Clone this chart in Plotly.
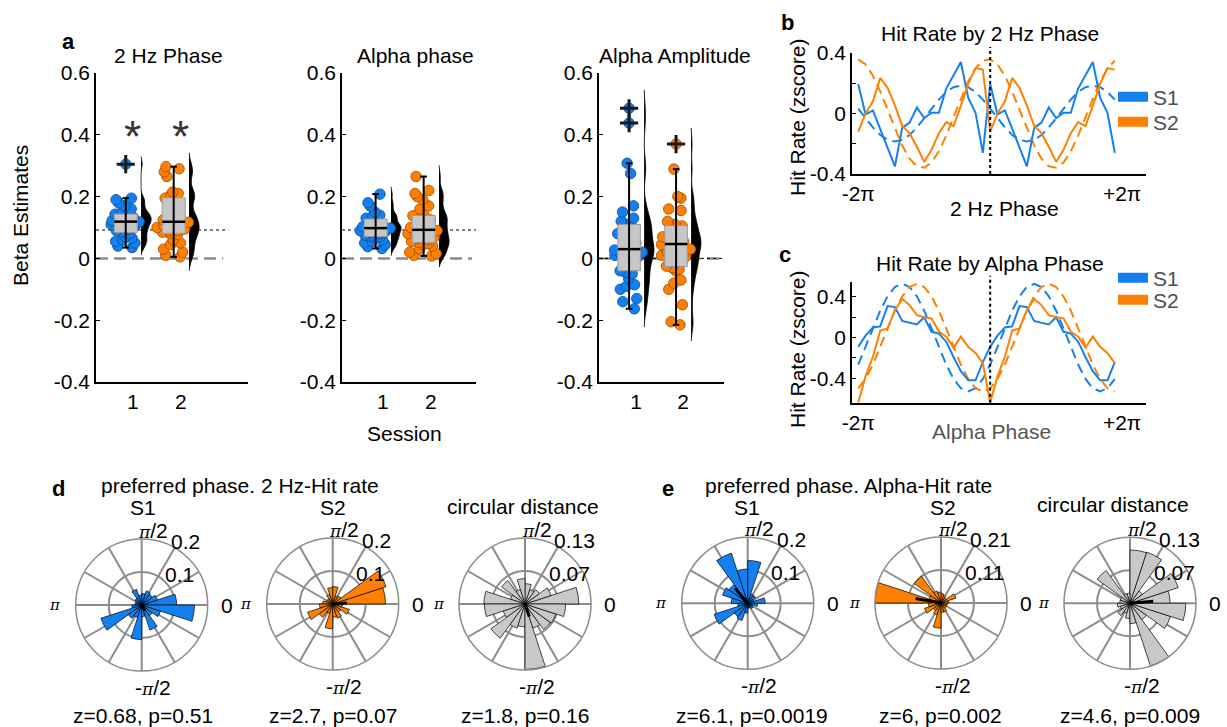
import numpy as np
import plotly.graph_objects as go

W, H = 1227, 727
FONT = "Liberation Sans, Arial, Helvetica, sans-serif"
BLUE = "#1380f0"
ORANGE = "#ff8000"
BLUE_EDGE = "#0a4c94"
ORANGE_EDGE = "#9c4d00"
GRID = "#8c8c8c"

# ---------------- data: panel a (beta estimates) ----------------
sessions = [1, 2]
a_titles = ["2 Hz Phase", "Alpha phase", "Alpha Amplitude"]
beta_2hz_s1 = [0.035, 0.04, 0.05, 0.055, 0.06, 0.065, 0.07, 0.08, 0.085, 0.09, 0.095, 0.1,
               0.105, 0.11, 0.115, 0.118, 0.12, 0.122, 0.125, 0.13, 0.133, 0.137, 0.14, 0.143,
               0.145, 0.15, 0.16, 0.17, 0.18, 0.19, 0.195, 0.305]
beta_2hz_s2 = [0.005, 0.01, 0.02, 0.03, 0.045, 0.05, 0.06, 0.078, 0.082, 0.085, 0.09, 0.09,
               0.095, 0.1, 0.105, 0.117, 0.12, 0.125, 0.13, 0.135, 0.14, 0.15, 0.19, 0.195,
               0.2, 0.205, 0.21, 0.215, 0.265, 0.28, 0.29, 0.297]
beta_aphase_s1 = [0.032, 0.038, 0.045, 0.05, 0.055, 0.06, 0.065, 0.07, 0.072, 0.075, 0.08,
                  0.085, 0.088, 0.09, 0.095, 0.098, 0.1, 0.102, 0.105, 0.108, 0.11, 0.113,
                  0.125, 0.13, 0.133, 0.137, 0.14, 0.15, 0.17, 0.18, 0.208]
beta_aphase_s2 = [0.008, 0.01, 0.015, 0.02, 0.03, 0.04, 0.045, 0.048, 0.052, 0.055, 0.06,
                  0.065, 0.07, 0.08, 0.085, 0.09, 0.095, 0.1, 0.11, 0.12, 0.125, 0.13, 0.135,
                  0.138, 0.142, 0.16, 0.17, 0.19, 0.2, 0.21, 0.22, 0.265]
beta_aamp_s1 = [-0.163, -0.14, -0.13, -0.1, -0.09, -0.085, -0.065, -0.05, -0.045, -0.04,
                -0.02, 0.0, 0.005, 0.01, 0.015, 0.02, 0.025, 0.027, 0.03, 0.035, 0.05, 0.055,
                0.06, 0.08, 0.085, 0.09, 0.095, 0.11, 0.115, 0.12, 0.13, 0.15, 0.17, 0.275,
                0.308, 0.438, 0.486]
beta_aamp_s2 = [-0.215, -0.205, -0.15, -0.1, -0.08, -0.07, -0.04, -0.035, -0.03, -0.025,
                -0.01, 0.0, 0.005, 0.01, 0.02, 0.03, 0.04, 0.045, 0.048, 0.05, 0.055, 0.06,
                0.065, 0.07, 0.08, 0.09, 0.105, 0.11, 0.115, 0.12, 0.155, 0.16, 0.195, 0.2,
                0.289, 0.37]
ref_level = [0.092, 0.092, 0.0]
significant = [[True, True], [False, False], [False, False]]
star_level = 0.43

# ---------------- data: panels b, c (hit rate by phase, one cycle of 18 bins) ----------------
bins_per_cycle = 18
hr2_s1 = [0.195, -0.006, 0.021, -0.1, -0.226, -0.35, -0.095, -0.06, 0.04, -0.03, 0.005, 0.005,
          0.165, 0.25, 0.34, 0.105, 0.005, -0.26]
hr2_s1_fit = [0.032, -0.032, -0.092, -0.142, -0.174, -0.185, -0.174, -0.142, -0.092, -0.032,
              0.032, 0.092, 0.142, 0.174, 0.185, 0.174, 0.142, 0.092]
hr2_s2 = [-0.12, 0.0, 0.08, 0.235, 0.17, 0.054, -0.08, -0.13, -0.22, -0.32, -0.24, -0.13,
          -0.057, -0.083, 0.05, 0.195, 0.3, 0.29]
hr2_s2_fit = [0.358, 0.324, 0.25, 0.146, 0.025, -0.099, -0.212, -0.298, -0.349, -0.358,
              -0.324, -0.25, -0.146, -0.025, 0.099, 0.212, 0.298, 0.349]
hra_s1 = [-0.09, 0.02, 0.10, 0.11, 0.31, 0.30, 0.165, 0.145, 0.13, 0.20, 0.057, 0.04, -0.04,
          -0.19, -0.33, -0.42, -0.42, -0.24]
hra_s1_fit = [-0.265, -0.092, 0.092, 0.265, 0.406, 0.498, 0.53, 0.498, 0.406, 0.265, 0.092,
              -0.092, -0.265, -0.406, -0.498, -0.53, -0.498, -0.406]
hra_s2 = [-0.64, -0.38, -0.19, 0.07, 0.09, 0.27, 0.38, 0.32, 0.22, 0.2, 0.19, 0.06, 0.01, -0.1,
          0.01, -0.09, -0.15, -0.25]
hra_s2_fit = [-0.498, -0.406, -0.265, -0.092, 0.092, 0.265, 0.406, 0.498, 0.53, 0.498, 0.406,
              0.265, 0.092, -0.092, -0.265, -0.406, -0.498, -0.53]

# ---------------- data: panels d, e (rose histograms, 20 bins of 18 deg) ----------------
rose_bin_deg = 18
rose_d_s1 = [0.106, 0.05, 0.04, 0.045, 0.035, 0.03, 0.05, 0.025, 0.02, 0.02, 0.03, 0.13, 0.05,
             0.04, 0.105, 0.035, 0.08, 0.04, 0.06, 0.16]
rose_d_s2 = [0.16, 0.17, 0.03, 0.025, 0.053, 0.05, 0.03, 0.02, 0.02, 0.03, 0.04, 0.08, 0.05,
             0.03, 0.075, 0.04, 0.045, 0.03, 0.053, 0.03]
rose_d_cd = [0.106, 0.054, 0.035, 0.03, 0.04, 0.05, 0.03, 0.057, 0.03, 0.081, 0.08, 0.045,
             0.083, 0.05, 0.045, 0.129, 0.05, 0.062, 0.064, 0.08]
rose_e_s1 = [0.053, 0.02, 0.03, 0.03, 0.13, 0.104, 0.16, 0.07, 0.08, 0.05, 0.03, 0.107, 0.05,
             0.055, 0.03, 0.015, 0.015, 0.02, 0.015, 0.03]
rose_e_s2 = [0.025, 0.05, 0.02, 0.025, 0.03, 0.035, 0.04, 0.105, 0.04, 0.21, 0.04, 0.055, 0.03,
             0.04, 0.08, 0.03, 0.03, 0.02, 0.02, 0.02]
rose_e_cd = [0.079, 0.1, 0.03, 0.106, 0.105, 0.02, 0.02, 0.08, 0.02, 0.02, 0.025, 0.02, 0.03,
             0.02, 0.03, 0.04, 0.13, 0.04, 0.084, 0.11]
rose_rmax = [0.2, 0.2, 0.13, 0.2, 0.21, 0.13]
rose_rtickvals = [[0.1, 0.2], [0.1, 0.2], [0.065, 0.13], [0.1, 0.2], [0.105, 0.21], [0.065, 0.13]]
rose_rticktext = [["0.1", "0.2"], ["0.1", "0.2"], ["0.07", "0.13"], ["0.1", "0.2"],
                  ["0.11", "0.21"], ["0.07", "0.13"]]
angle_labels = ["0", "π/2", "π", "-π/2"]
mean_vec_angle = [-60, 4, -71, 130, 170, 5]
mean_vec_len = [0.02, 0.043, 0.026, 0.06, 0.082, 0.046]
rose_titles = ["S1", "S2", "circular distance", "S1", "S2", "circular distance"]
rose_stats = ["z=0.68, p=0.51", "z=2.7, p=0.07", "z=1.8, p=0.16",
              "z=6.1, p=0.0019", "z=6, p=0.002", "z=4.6, p=0.009"]


def dom_x(x0, x1):
    return [x0 / W, x1 / W]


def dom_y(top, bottom):
    return [1 - bottom / H, 1 - top / H]


def ann(text, x, y, size=20, bold=False, color="black", angle=0, xanchor="center"):
    return dict(text=f"<b>{text}</b>" if bold else text, x=x / W, y=1 - y / H, xref="paper",
                yref="paper", showarrow=False, font=dict(size=size, color=color, family=FONT),
                textangle=angle, xanchor=xanchor, yanchor="middle")


fig = go.Figure()
layout = dict(width=W, height=H, autosize=False, margin=dict(l=0, r=0, t=0, b=0, pad=0),
              paper_bgcolor="white", plot_bgcolor="white",
              font=dict(family=FONT, size=20, color="black"), showlegend=True,
              shapes=[], annotations=[])
A = layout["annotations"]

# ================= panel a =================
a_groups = [(beta_2hz_s1, beta_2hz_s2), (beta_aphase_s1, beta_aphase_s2),
            (beta_aamp_s1, beta_aamp_s2)]
a_xdom = [(96, 248), (342, 476), (599, 724)]
a_xrange = [[0.23, 3.4], [0.15, 2.94], [0.21, 2.87]]
a_dot_end = [0.87, 1.0, 1.0]
a_dash_end = [0.835, 0.97, 0.97]
colors = [BLUE, ORANGE]
edges = [BLUE_EDGE, ORANGE_EDGE]
BOX_OFF, VIO_OFF, HALF_W, CAP = -0.15, 0.17, 0.24, 0.07

for k, pair in enumerate(a_groups):
    xa = "x" if k == 0 else f"x{k+1}"
    ya = "y" if k == 0 else f"y{k+1}"
    xkey = "xaxis" if k == 0 else f"xaxis{k+1}"
    ykey = "yaxis" if k == 0 else f"yaxis{k+1}"
    layout[xkey] = dict(domain=dom_x(*a_xdom[k]), range=a_xrange[k], tickmode="array",
                        tickvals=sessions, ticktext=[str(s) for s in sessions],
                        showline=True, linecolor="black", linewidth=1.5, ticks="",
                        showgrid=False, zeroline=False, anchor=ya, automargin=False,
                        tickfont=dict(size=21, color="black"))
    layout[ykey] = dict(domain=dom_y(73, 382), range=[-0.4, 0.6], tickmode="array",
                        tickvals=[-0.4, -0.2, 0, 0.2, 0.4, 0.6],
                        ticktext=["-0.4", "-0.2", "0", "0.2", "0.4", "0.6"],
                        showline=True, linecolor="black", linewidth=1.5, ticks="inside",
                        ticklen=4, tickcolor="black", showgrid=False, zeroline=False,
                        anchor=xa, automargin=False, tickfont=dict(size=21, color="black"))
    layout["shapes"].append(dict(type="line", xref=f"{xa} domain", yref=ya, x0=0,
                                 x1=a_dash_end[k], y0=0, y1=0, layer="below",
                                 line=dict(color="#8c8c8c", width=2.5, dash="12px,6px")))
    layout["shapes"].append(dict(type="line", xref=f"{xa} domain", yref=ya, x0=0,
                                 x1=a_dot_end[k], y0=ref_level[k], y1=ref_level[k],
                                 layer="below", line=dict(color="black", width=1, dash="dot")))
    for s, vals in enumerate(pair):
        v = np.array(vals, dtype=float)
        c = sessions[s] + BOX_OFF
        q1, med, q3 = np.percentile(v, [25, 50, 75])
        iqr = q3 - q1
        lo_f, hi_f = q1 - 1.5 * iqr, q3 + 1.5 * iqr
        inl = v[(v >= lo_f) & (v <= hi_f)]
        outl = v[(v < lo_f) | (v > hi_f)]
        wlo, whi = inl.min(), inl.max()
        silverman = 0.9 * min(v.std(ddof=1), iqr / 1.34) * len(v) ** -0.2
        fig.add_trace(go.Scatter(x=[c - HALF_W, c + HALF_W, c + HALF_W, c - HALF_W, c - HALF_W],
                                 y=[q1, q1, q3, q3, q1], mode="lines", fill="toself",
                                 fillcolor="#c6c6c6", line=dict(color="#9a9a9a", width=1),
                                 xaxis=xa, yaxis=ya, showlegend=False, hoverinfo="skip"))
        fig.add_trace(go.Box(y=inl, x0=c, width=0.72, boxpoints="all", jitter=1,
                             pointpos=0, fillcolor="rgba(0,0,0,0)",
                             line=dict(width=0, color="rgba(0,0,0,0)"),
                             marker=dict(color=colors[s], size=10.5,
                                         line=dict(color=edges[s], width=0.8)),
                             xaxis=xa, yaxis=ya, showlegend=False, hoverinfo="skip"))
        fig.add_trace(go.Scatter(x=[c, c, None, c - CAP, c + CAP, None, c - CAP, c + CAP],
                                 y=[wlo, whi, None, wlo, wlo, None, whi, whi], mode="lines",
                                 line=dict(color="black", width=2), xaxis=xa, yaxis=ya,
                                 showlegend=False, hoverinfo="skip"))
        fig.add_trace(go.Scatter(x=[c - HALF_W, c + HALF_W], y=[med, med], mode="lines",
                                 line=dict(color="black", width=2.5), xaxis=xa, yaxis=ya,
                                 showlegend=False, hoverinfo="skip"))
        if len(outl):
            fig.add_trace(go.Scatter(x=[c] * len(outl), y=outl, mode="markers",
                                     marker=dict(color=colors[s], size=10.5,
                                                 line=dict(color=edges[s], width=0.8)),
                                     xaxis=xa, yaxis=ya, showlegend=False, hoverinfo="skip"))
            fig.add_trace(go.Scatter(x=[c] * len(outl), y=outl, mode="markers",
                                     marker=dict(symbol="cross-thin", size=13,
                                                 line=dict(color="#1a1a1a", width=3)),
                                     xaxis=xa, yaxis=ya, showlegend=False, hoverinfo="skip"))
        fig.add_trace(go.Violin(y=v, x0=sessions[s] + VIO_OFF, side="positive", width=0.42,
                                bandwidth=0.6 * silverman, fillcolor="black",
                                line=dict(color="black", width=0.8), points=False,
                                spanmode="soft", xaxis=xa, yaxis=ya,
                                showlegend=False, hoverinfo="skip"))
        if significant[k][s]:
            A.append(dict(text="*", x=sessions[s], y=star_level, xref=xa, yref=ya,
                          showarrow=False, yshift=-11, font=dict(size=44, color="#333333")))

# ================= panels b, c =================
n_tot = 2 * bins_per_cycle
phase_x = np.linspace(-2 * np.pi, 2 * np.pi, n_tot, endpoint=False)
bc_sets = [
    ("x4", "y4", (53, 174), [-0.4, 0.4], hr2_s1, hr2_s1_fit, hr2_s2, hr2_s2_fit,
     [("legend", 97), ("legend2", 122)]),
    ("x5", "y5", (281.7, 402.7), [-0.64, 0.55], hra_s1, hra_s1_fit, hra_s2, hra_s2_fit,
     [("legend3", 278), ("legend4", 300)]),
]
for (xa, ya, ydom, yr, s1, s1f, s2, s2f, legs) in bc_sets:
    n = xa[1:]
    layout[f"xaxis{n}"] = dict(domain=dom_x(852, 1146), range=[-6.58, 7.42], tickmode="array",
                               tickvals=[-2 * np.pi, 2 * np.pi], ticktext=["-2π", "+2π"],
                               showline=True, linecolor="black", linewidth=1.5, ticks="",
                               showgrid=False, zeroline=False, anchor=ya, automargin=False,
                               tickfont=dict(size=21, color="black"))
    layout[f"yaxis{n}"] = dict(domain=dom_y(*ydom), range=yr, tickmode="array",
                               tickvals=[-0.4, -0.2, 0, 0.2, 0.4],
                               ticktext=["-0.4", "", "0", "", "0.4"], showline=True,
                               linecolor="black", linewidth=1.5, ticks="inside", ticklen=4,
                               tickcolor="black", showgrid=False, zeroline=False, anchor=xa,
                               automargin=False, tickfont=dict(size=21, color="black"))
    layout["shapes"].append(dict(type="line", xref=xa, yref=f"{ya} domain", x0=0, x1=0,
                                 y0=0, y1=1.05, line=dict(color="black", width=2, dash="dot")))
    for vals, col, dash in [(s1f, BLUE, "10px,6px"), (s2f, ORANGE, "10px,6px"),
                            (s1, BLUE, "solid"), (s2, ORANGE, "solid")]:
        fig.add_trace(go.Scatter(x=phase_x, y=np.concatenate([vals, vals]), mode="lines",
                                 line=dict(color=col, width=2, dash=dash), xaxis=xa, yaxis=ya,
                                 showlegend=False, hoverinfo="skip"))
    for (name, col), (leg, ly) in zip([("S1", BLUE), ("S2", ORANGE)], legs):
        fig.add_trace(go.Scatter(x=[None], y=[None], mode="lines", name=name,
                                 line=dict(color=col, width=10), xaxis=xa, yaxis=ya,
                                 legend=leg, showlegend=True))
        layout[leg] = dict(x=1113 / W, y=1 - ly / H, xanchor="left", yanchor="middle",
                           font=dict(size=21, color="#4d4d4d"), bgcolor="rgba(0,0,0,0)",
                           tracegroupgap=0, itemwidth=30, borderwidth=0)

# ================= panels d, e (roses) =================
roses = [rose_d_s1, rose_d_s2, rose_d_cd, rose_e_s1, rose_e_s2, rose_e_cd]
rose_colors = [BLUE, ORANGE, "#c8c8c8", BLUE, ORANGE, "#c8c8c8"]
rose_centers = [(141.7, 605), (332.7, 604), (525, 604), (747.7, 603.3), (941, 603),
                (1130, 603.3)]
R = 66
ang_vals = list(range(0, 360, 30))
bin_centers = [rose_bin_deg * i + rose_bin_deg / 2 for i in range(len(rose_d_s1))]


def pi_html(label, size=16):
    return label.replace("π", f"<span style='font-family:DejaVu Serif;font-size:{size}px'>"
                               f"<i>π</i></span>")


# angular label offsets from centre (px): 0, π/2, π, -π/2
ang_offsets = [(85, 0), (11.6, -75), (-86.5, 0), (11.6, 82)]

for i, r in enumerate(roses):
    pk = "polar" if i == 0 else f"polar{i+1}"
    cx, cy = rose_centers[i]
    layout[pk] = dict(
        domain=dict(x=dom_x(cx - R, cx + R), y=dom_y(cy - R, cy + R)),
        bgcolor="white",
        angularaxis=dict(rotation=0, direction="counterclockwise", tickmode="array",
                         tickvals=ang_vals, showticklabels=False, showline=True,
                         linecolor=GRID, linewidth=1.5, gridcolor=GRID, gridwidth=1.5,
                         ticks=""),
        radialaxis=dict(range=[0, rose_rmax[i]], tickmode="array", tickvals=rose_rtickvals[i],
                        showticklabels=False, showline=False, gridcolor=GRID,
                        gridwidth=1.5, ticks=""),
    )
    fig.add_trace(go.Barpolar(r=r, theta=bin_centers, width=[rose_bin_deg] * len(r),
                              marker=dict(color=rose_colors[i],
                                          line=dict(color="black", width=0.7)),
                              subplot=pk, showlegend=False, hoverinfo="skip"))
    fig.add_trace(go.Scatterpolar(r=[0, mean_vec_len[i]], theta=[0, mean_vec_angle[i]],
                                  mode="lines", line=dict(color="black", width=3),
                                  subplot=pk, showlegend=False, hoverinfo="skip"))
    for lab, (ox, oy) in zip(angle_labels, ang_offsets):
        sz = 15 if lab == "π" else 17
        A.append(ann(pi_html(lab, sz), cx + ox, cy + oy, size=21))
    inner_t, outer_t = rose_rticktext[i]
    A.append(ann(outer_t, cx + 27, cy - 64, size=21, xanchor="left"))
    A.append(ann(inner_t, cx + 21.5, cy - 31, size=21, xanchor="left"))

A.append(ann("a", 68, 42, size=22, bold=True))
for t, x in zip(a_titles, [168, 415, 675]):
    A.append(ann(t, x, 55, size=21))
A.append(ann("Beta Estimates", 21, 216, size=21, angle=-90))
A.append(ann("Session", 404, 433, size=21))
A.append(ann("b", 787, 22, size=22, bold=True))
A.append(ann("Hit Rate by 2 Hz Phase", 990, 33, size=21))
A.append(ann("Hit Rate (zscore)", 798, 117, size=21, angle=-90))
A.append(ann("2 Hz Phase", 1004, 208, size=21))
A.append(ann("c", 785, 255, size=22, bold=True))
A.append(ann("Hit Rate by Alpha Phase", 990, 263, size=21))
A.append(ann("Hit Rate (zscore)", 798, 349, size=21, angle=-90))
A.append(ann("Alpha Phase", 992, 431, size=21, color="#555555"))
A.append(ann("d", 58, 488, size=22, bold=True))
A.append(ann("preferred phase. 2 Hz-Hit rate", 240, 485, size=21))
A.append(ann("e", 668, 488, size=22, bold=True))
A.append(ann("preferred phase. Alpha-Hit rate", 848, 485, size=21))
title_pos = [(143, 507), (333, 507), (523, 506), (747, 507), (943, 507), (1113, 504)]
stat_pos = [(143, 715), (333, 715), (525, 715), (752, 715), (940, 715), (1130, 715)]
for t, p in zip(rose_titles, title_pos):
    A.append(ann(t, *p, size=21))
for t, p in zip(rose_stats, stat_pos):
    A.append(ann(t, *p, size=21))

fig.update_layout(**layout)
fig.write_html("out.html")
